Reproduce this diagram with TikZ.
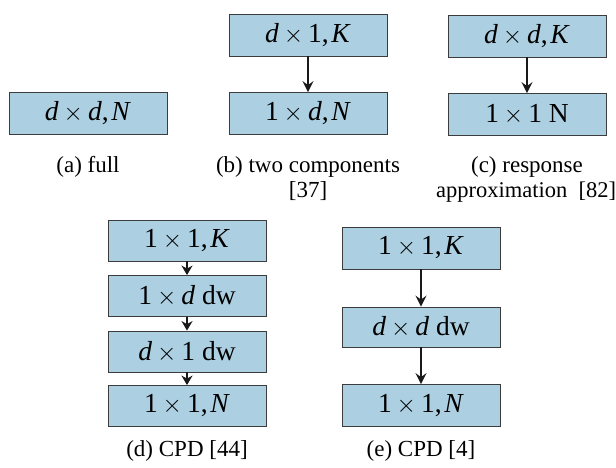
\documentclass[tikz,border=0pt]{standalone}
\usepackage{fontspec}
\setmainfont{Liberation Serif}
\usetikzlibrary{arrows.meta}
\definecolor{boxfill}{RGB}{172,208,226}
\definecolor{boxline}{RGB}{60,60,60}
% symbols used inside the boxes
\newcommand{\tms}{\hspace{0.18em}$\times$\hspace{0.18em}}
\newcommand{\vi}[1]{\textit{#1}}
\tikzset{
  layer/.style={draw=boxline, fill=boxfill, line width=0.8pt,
    minimum width=158pt, minimum height=42pt, inner sep=0pt,
    font=\fontsize{27.5}{30}\selectfont},
  flow/.style={-{Stealth[length=11pt,width=11pt,inset=4pt]}, line width=1.8pt, black!90},
  shortflow/.style={flow, -{Stealth[length=9.5pt,width=11pt,inset=3pt]}},
  subcap/.style={anchor=base, align=center, font=\fontsize{23}{27}\selectfont},
}
\begin{document}
\begin{tikzpicture}[x=1pt, y=-1pt]
\useasboundingbox (0,0) rectangle (616,468);

% (a) full
\node[layer] (a1) at (88,113.5) {\vi{d}\tms\vi{d},\hspace{0.1em}\vi{N}};
\node[subcap] (ca) at (88,172) {(a) full};

% (b) two components
\node[layer] (b1) at (308,35) {\vi{d}\tms 1,\hspace{0.1em}\vi{K}};
\node[layer] (b2) at (308,113.5) {1\tms\vi{d},\hspace{0.1em}\vi{N}};
\draw[flow] (b1) -- (b2);
\node[subcap] (cb) at (308,172) {(b) two components};
\node[subcap] (cb2) at (308,197) {[37]};

% (c) response approximation
\node[layer] (c1) at (527,36) {\vi{d}\tms\vi{d},\hspace{0.1em}\vi{K}};
\node[layer] (c2) at (527,114.5) {1\tms 1 N};
\draw[flow] (c1) -- (c2);
\node[subcap] (cc) at (527,172) {(c) response};
\node[subcap, font=\fontsize{22.5}{27}\selectfont] (cc2) at (526,197) {approximation\hspace{0.5em}[82]};

% (d) CPD
\node[layer, minimum height=41pt] (d1) at (187,240.5) {1\tms 1,\hspace{0.1em}\vi{K}};
\node[layer, minimum height=41pt] (d2) at (187,296) {1\tms\vi{d} dw};
\node[layer, minimum height=41pt] (d3) at (187,351.5) {\vi{d}\tms 1 dw};
\node[layer, minimum height=41pt] (d4) at (187,406) {1\tms 1,\hspace{0.1em}\vi{N}};
\draw[shortflow] (d1) -- (d2);
\draw[shortflow] (d2) -- (d3);
\draw[shortflow] (d3) -- (d4);
\node[subcap] (cd) at (187,456) {(d) CPD [44]};

% (e) CPD
\node[layer] (e1) at (421,248) {1\tms 1,\hspace{0.1em}\vi{K}};
\node[layer, minimum height=40pt] (e2) at (421,327) {\vi{d}\tms\vi{d} dw};
\node[layer] (e3) at (421,405.5) {1\tms 1,\hspace{0.1em}\vi{N}};
\draw[flow] (e1) -- (e2);
\draw[flow] (e2) -- (e3);
\node[subcap] (ce) at (421,456) {(e) CPD [4]};
\end{tikzpicture}
\end{document}
